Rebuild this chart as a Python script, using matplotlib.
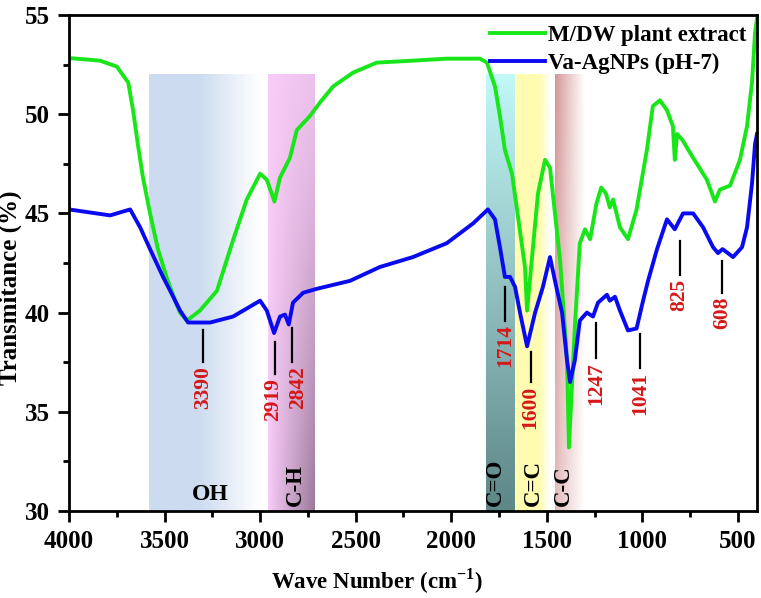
import numpy as np
import matplotlib
matplotlib.use("Agg")
import matplotlib.pyplot as plt

# spectra (wave number cm-1, transmitance %)
wn_green = [4000, 3838, 3750, 3690, 3665, 3640, 3613, 3576, 3535, 3490, 3445, 3419, 3383,
            3315, 3226, 3140, 3070, 3000, 2965, 2925, 2896, 2844, 2808, 2740, 2686, 2618,
            2513, 2390, 2200, 2023, 1850, 1813, 1771, 1745, 1719, 1682, 1650, 1614, 1603,
            1546, 1509, 1483, 1430, 1394, 1384, 1353, 1327, 1300, 1273, 1240, 1215, 1190,
            1170, 1153, 1117, 1075, 1030, 976, 945, 908, 871, 840, 830, 818, 790, 734,
            662, 620, 594, 541, 489, 452, 426, 410, 400]
t_green = [52.83, 52.7, 52.4, 51.6, 50.2, 48.5, 46.8, 45.0, 43.2, 41.8, 40.6, 40.0, 39.6,
           40.1, 41.1, 43.7, 45.7, 47.0, 46.7, 45.6, 46.8, 47.8, 49.2, 49.9, 50.6, 51.4,
           52.1, 52.6, 52.7, 52.8, 52.8, 52.6, 51.4, 49.9, 48.2, 47.0, 44.8, 42.3, 40.1,
           46.0, 47.7, 47.3, 42.6, 37.6, 33.2, 39.3, 43.5, 44.2, 43.7, 45.5, 46.3, 46.0,
           45.3, 45.7, 44.3, 43.7, 45.2, 48.2, 50.4, 50.7, 50.2, 49.4, 47.7, 49.0, 48.7,
           47.8, 46.7, 45.6, 46.2, 46.4, 47.7, 49.4, 51.6, 54.1, 54.8]

wn_blue = [4000, 3785, 3680, 3628, 3576, 3508, 3460, 3419, 3377, 3262, 3142, 3053, 3000,
           2965, 2927, 2896, 2870, 2850, 2828, 2775, 2703, 2530, 2373, 2200, 2023, 1885,
           1808, 1771, 1745, 1719, 1692, 1666, 1640, 1603, 1561, 1520, 1483, 1457, 1420,
           1394, 1378, 1353, 1327, 1290, 1258, 1232, 1185, 1170, 1143, 1117, 1075, 1030,
           996, 970, 923, 871, 830, 787, 734, 682, 630, 604, 580, 525, 478, 452, 426,
           410, 400]
t_blue = [45.2, 44.9, 45.2, 44.3, 43.2, 41.8, 40.9, 40.1, 39.5, 39.5, 39.8, 40.3, 40.6,
          40.1, 38.97, 39.8, 39.9, 39.4, 40.5, 41.0, 41.2, 41.6, 42.3, 42.8, 43.5, 44.5,
          45.2, 44.7, 43.3, 41.8, 41.8, 41.3, 40.0, 38.3, 40.0, 41.3, 42.8, 41.6, 40.0,
          37.6, 36.5, 37.6, 39.6, 40.0, 39.8, 40.5, 40.9, 40.6, 40.8, 40.1, 39.1, 39.2,
          40.6, 41.6, 43.2, 44.7, 44.2, 45.0, 45.0, 44.3, 43.3, 43.0, 43.2, 42.8, 43.3,
          44.3, 46.5, 48.5, 49.0]

# peak markers: line x, line top, line bottom, label
peak_x = [3300, 2921, 2832, 1716, 1584, 1242, 1010, 805, 584]
peak_top = [39.1, 38.5, 39.2, 41.3, 38.0, 39.5, 38.9, 43.6, 42.6]
peak_bot = [37.5, 36.9, 37.5, 39.6, 36.5, 37.7, 37.2, 41.9, 41.0]
peak_labels = ['3390', '2919', '2842', '1714', '1600', '1247', '1041', '825', '608']

# functional group bands (left edge, right edge, name, label x)
band_left = [3580, 2958, 1820, 1662, 1458]
band_right = [3000, 2715, 1670, 1485, 1305]
band_names = ['OH', 'C-H', 'C=O', 'C=C', 'C-C']
band_text_x = [3262, 2817, 1770, 1572, 1415]

plt.rcParams['font.family'] = ['Liberation Serif', 'DejaVu Serif']
plt.rcParams['font.weight'] = 'bold'
plt.rcParams['mathtext.fontset'] = 'custom'
plt.rcParams['mathtext.bf'] = 'Liberation Serif:bold'
plt.rcParams['mathtext.rm'] = 'Liberation Serif:bold'

fig = plt.figure(figsize=(7.61, 5.98), dpi=100)
ax = fig.add_axes([0.0907, 0.1455, 0.904, 0.8294])

nx, ny = 120, 60
xs = np.linspace(0, 1, nx)[None, :, None]
ys = np.linspace(0, 1, ny)[:, None, None]
white = np.array([1.0, 1.0, 1.0])


def mix(a, b, t):
    return np.array(a) * (1 - t) + np.array(b) * t


def band_image(name):
    if name == 'OH':
        w = np.clip((xs - 0.45) / 0.55, 0, 1) * np.ones_like(ys)
        return mix((0.80, 0.86, 0.94), white, w)
    if name == 'C-H':
        t = xs * (0.12 + 0.8 * ys ** 1.3)
        return mix((0.97, 0.80, 0.97), (0.58, 0.45, 0.57), t)
    if name == 'C=O':
        t = ys * np.ones_like(xs)
        return mix((0.76, 0.97, 0.97), (0.37, 0.53, 0.53), t)
    if name == 'C=C':
        w = np.clip((xs - 0.72) / 0.28, 0, 1) * np.ones_like(ys)
        return mix((1.0, 0.99, 0.70), white, w)
    base = mix((0.83, 0.58, 0.58), white, xs ** 0.9)
    return mix(base, white, 0.35 * ys)


for x0, x1, name in zip(band_left, band_right, band_names):
    ax.imshow(band_image(name), extent=(x0, x1, 30, 52), aspect='auto',
              origin='upper', interpolation='bilinear', zorder=0.5)

for tx, name in zip(band_text_x, band_names):
    if name == 'OH':
        ax.text(tx, 30.3, name, ha='center', va='bottom', fontsize=17, fontweight='bold', zorder=3)
    else:
        ax.text(tx, 30.25, name, ha='center', va='bottom', rotation=90,
                fontsize=16.5, fontweight='bold', zorder=3)

ax.plot(wn_green, t_green, color='#19e619', lw=2.8, solid_joinstyle='round',
        label='M/DW plant extract', zorder=2)
ax.plot(wn_blue, t_blue, color='#0a0af0', lw=2.8, solid_joinstyle='round',
        label='Va-AgNPs (pH-7)', zorder=2.1)

# the two C-H labels sit close, nudge them apart a little
nudge = {'2919': 12, '2842': -30}
for px, top, bot, lab in zip(peak_x, peak_top, peak_bot, peak_labels):
    ax.plot([px, px], [top, bot], color='black', lw=1.6, zorder=3)
    ax.text(px + nudge.get(lab, 0), bot - 0.2, lab, color='#d41818', rotation=90,
            ha='center', va='top', fontsize=15.5, fontweight='bold', zorder=3)

ax.set_xlim(4000, 400)
ax.set_ylim(30, 55)
ax.set_xticks([4000, 3500, 3000, 2500, 2000, 1500, 1000, 500])
ax.set_xticks(np.arange(3750, 400, -500), minor=True)
ax.set_yticks([30, 35, 40, 45, 50, 55])
ax.set_yticks([32.5, 37.5, 42.5, 47.5, 52.5], minor=True)
ax.tick_params(which='major', direction='out', length=8, width=2, labelsize=18, pad=6)
ax.tick_params(which='minor', direction='out', length=4, width=2)
for lab in ax.get_xticklabels() + ax.get_yticklabels():
    lab.set_fontweight('bold')
for sp in ax.spines.values():
    sp.set_linewidth(2)

ax.set_xlabel('Wave Number (cm$^{\\mathbf{-1}}$)', fontsize=16.5, fontweight='bold')
ax.set_ylabel('Transmitance (%)', fontsize=18, fontweight='bold')
ax.xaxis.set_label_coords(0.448, -0.112)
ax.yaxis.set_label_coords(-0.068, 0.45)

leg = ax.legend(loc='upper right', frameon=False, fontsize=16.5, handlelength=2.4,
                handletextpad=0.15, borderaxespad=0.05, labelspacing=0.3)
for t in leg.get_texts():
    t.set_fontweight('bold')

fig.savefig('out.png', dpi=100)
